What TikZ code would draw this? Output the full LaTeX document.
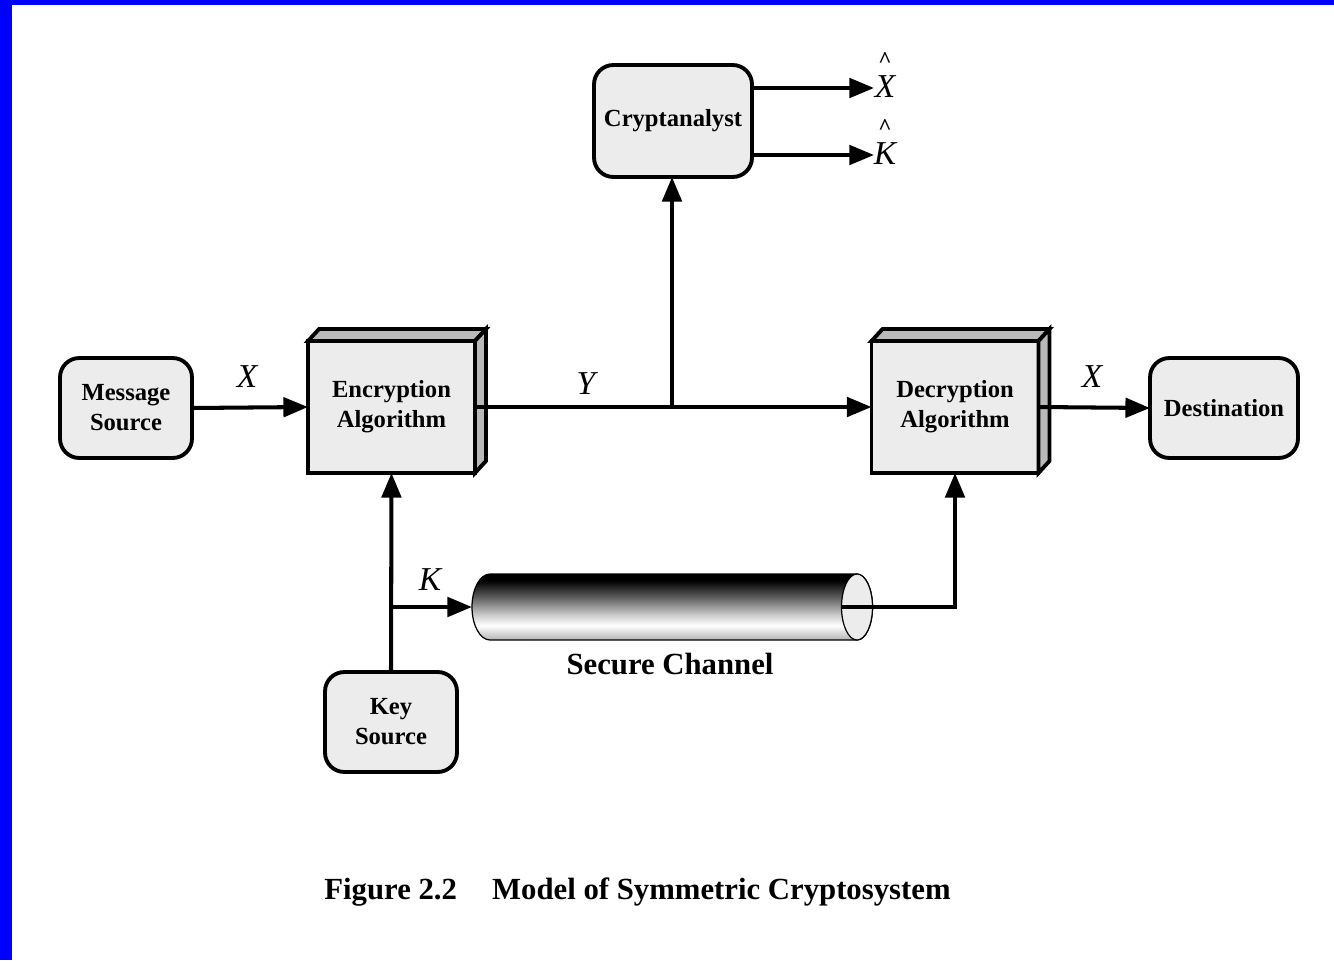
\documentclass[tikz,border=0pt]{standalone}
\usepackage{fontspec}
\setmainfont{Liberation Serif}
\usetikzlibrary{arrows.meta,calc}
\pgfdeclareverticalshading{cylshade}{100bp}{color(0bp)=(gray!60); color(25bp)=(gray!60); color(36bp)=(white); color(44bp)=(gray!40); color(58bp)=(gray!70!black); color(70bp)=(black); color(100bp)=(black)}
\tikzset{
  rbox/.style={draw, line width=2.2pt, fill=gray!15, rounded corners=11pt, align=center,
    font=\bfseries\fontsize{14}{17}\selectfont, inner sep=0pt, outer sep=0pt},
  cube/.style={draw, line width=2.2pt, fill=gray!15, align=center,
    font=\bfseries\fontsize{14}{17}\selectfont, inner sep=0pt, outer sep=0pt,
    minimum width=3.34cm, minimum height=2.64cm},
  face/.style={draw, line width=2.2pt, fill=gray!55, line join=miter},
  arr/.style={line width=2.3pt, -{Triangle[length=14pt,width=11pt]}},
  lab/.style={font=\itshape\fontsize{19}{19}\selectfont, inner sep=0pt},
  hatlab/.style={font=\itshape\fontsize{19}{19}\selectfont, inner sep=0pt, align=center},
}
\newcommand{\hatsym}{{\upshape\bfseries\fontsize{13}{13}\selectfont\textasciicircum}}
\begin{document}
\begin{tikzpicture}[x=0.02cm,y=-0.02cm]
\useasboundingbox (0,0) rectangle (1334,960);
\fill[white] (0,0) rectangle (1334,960);
\fill[blue] (0,0) rectangle (12,960);
\fill[blue] (0,0) rectangle (1334,5);

% boxes
\node[rbox, minimum width=2.64cm, minimum height=2.0cm] (msg) at (126,408) {Message\\Source};
\node[rbox, minimum width=2.96cm, minimum height=2.0cm] (dst) at (1224,408) {Destination};
\node[rbox, minimum width=3.16cm, minimum height=2.24cm] (crypt) at (673,121) {Cryptanalyst};
\node[rbox, minimum width=2.64cm, minimum height=2.0cm] (key) at (391,722) {Key\\Source};

\node[cube] (enc) at (391.5,407) {Encryption\\Algorithm};
\draw[face] (enc.north west) -- ++(11,-12) -- ($(enc.north east)+(11,-12)$) -- (enc.north east) -- cycle;
\draw[face] (enc.north east) -- ++(11,-12) -- ($(enc.south east)+(11,-12)$) -- (enc.south east) -- cycle;

\node[cube] (dec) at (955,407) {Decryption\\Algorithm};
\draw[face] (dec.north west) -- ++(11,-12) -- ($(dec.north east)+(11,-12)$) -- (dec.north east) -- cycle;
\draw[face] (dec.north east) -- ++(11,-12) -- ($(dec.south east)+(11,-12)$) -- (dec.south east) -- cycle;

% secure channel cylinder
\shade[shading=cylshade, draw=black, line width=0.7pt]
  (857,574) -- (490,574) arc[start angle=90, end angle=270, x radius=0.36cm, y radius=0.66cm]
  -- (857,640) arc[start angle=-90, end angle=90, x radius=0.31cm, y radius=0.66cm] -- cycle;
\draw[line width=0.7pt, fill=gray!15] (857,607) ellipse[x radius=0.31cm, y radius=0.66cm];
\coordinate (cylin) at (841,607);
\coordinate (cylleft) at (472,607);
\node[font=\bfseries\fontsize{17.5}{20}\selectfont, inner sep=0pt] (sc) at (670,664) {Secure Channel};

% connectors
\draw[arr] (msg.east) -- (enc.west);
\node[lab] (lx1) at (247,377) {X};
\draw[arr] (enc.east) -- (dec.west);
\node[lab] (ly) at (586,384) {Y};
\coordinate (br) at (672,407);
\draw[arr] (br) -- (br |- crypt.south);
\draw[arr] (dec.east) -- (dst.west);
\node[lab] (lx2) at (1092,377) {X};

\coordinate (kb) at (391,607);
\draw[arr] (key.north) -- (enc.south);
\draw[arr] (kb) -- (cylleft);
\node[lab] (lk) at (430,580) {K};
\draw[arr] (cylin) -| (dec.south);

% cryptanalyst outputs
\node[hatlab, anchor=south] (xh) at (885,98) {\hatsym\\[-2pt]X};
\node[hatlab, anchor=south] (kh) at (885,165) {\hatsym\\[-2pt]K};
\draw[arr] (crypt.east |- 0,88) -- (874,88);
\draw[arr] (crypt.east |- 0,155) -- (874,155);

% caption
\node[font=\bfseries\fontsize{17.5}{20}\selectfont, inner sep=0pt] (cap) at (637.5,892)
  {Figure 2.2\hspace{20pt}Model of Symmetric Cryptosystem};
\end{tikzpicture}
\end{document}
